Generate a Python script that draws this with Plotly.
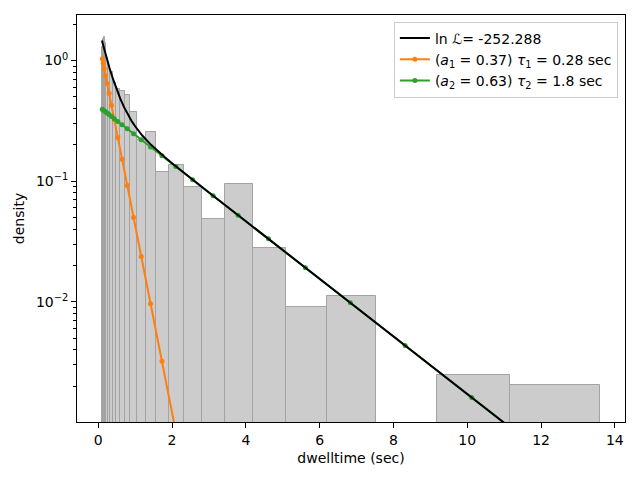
import plotly.graph_objects as go

# ---------------- data ----------------
bin_edges = [0.1, 0.1217, 0.1481, 0.1803, 0.2195, 0.2671, 0.3251, 0.3957, 0.4816,
             0.5861, 0.7134, 0.8683, 1.0568, 1.2862, 1.5654, 1.9053, 2.3190, 2.8225,
             3.4353, 4.1811, 5.0889, 6.1937, 7.5384, 9.1750, 11.167, 13.591]
bin_density = [1.30, 1.52, 1.58, 1.40, 1.05, 0.85, 0.81, 0.65, 0.58, 0.56, 0.52,
               0.372, 0.22, 0.254, 0.119, 0.135, 0.0897, 0.049, 0.0955, 0.0278,
               0.00912, 0.01125, None, 0.00248, 0.00205]

marker_t = [0.1103, 0.1343, 0.1634, 0.1989, 0.2422, 0.2947, 0.3587, 0.4365, 0.5313,
            0.6466, 0.7870, 0.9579, 1.1659, 1.4190, 1.7270, 2.1020, 2.5584, 3.1139,
            3.7899, 4.6127, 5.6141, 6.8330, 8.3165, 10.122, 12.320]
comp1_density = [1.032, 0.947, 0.854, 0.752, 0.644, 0.534, 0.425, 0.322, 0.2295,
                 0.152, 0.092, 0.050, 0.0238, 0.00963, 0.00321, 0.00084, 0.000165,
                 1.9e-5, 1.7e-6, 8.5e-8, 2.4e-9, 3.2e-11, 2.0e-13, 3.0e-16, 1.2e-19]
comp2_density = [0.3944, 0.3892, 0.3830, 0.3756, 0.3668, 0.3564, 0.3440, 0.3297,
                 0.3129, 0.2937, 0.2719, 0.2475, 0.2208, 0.1921, 0.1622, 0.1320,
                 0.1027, 0.0757, 0.05224, 0.03324, 0.01917, 0.00981, 0.004345,
                 0.00161, 0.000481]

total_t = [0.1, 0.15, 0.2, 0.25, 0.3, 0.4, 0.5, 0.6, 0.7, 0.8, 0.9, 1.0, 1.2, 1.4,
           1.6, 1.8, 2.0, 2.5, 3.0, 4.0, 5.0, 6.0, 7.0, 8.0, 9.0, 10.0, 11.0, 12.0, 13.6]
total_density = [1.4672, 1.2813, 1.1244, 0.9917, 0.8793, 0.703, 0.575, 0.4808, 0.4108,
                 0.3579, 0.317, 0.2849, 0.2378, 0.2045, 0.179, 0.1583, 0.1409, 0.1063,
                 0.0806, 0.04652, 0.02685, 0.0155, 0.008953, 0.00517, 0.002984,
                 0.001722, 0.000994, 0.000574, 0.000238]

legend_total = "ln \u2112= -252.288"
legend_c1 = "(<i>a</i><sub>1</sub> = 0.37) <i>\u03c4</i><sub>1</sub> = 0.28 sec"
legend_c2 = "(<i>a</i><sub>2</sub> = 0.63) <i>\u03c4</i><sub>2</sub> = 1.8 sec"

x_ticks = [0, 2, 4, 6, 8, 10, 12, 14]
y_ticks = [1, 0.1, 0.01]
y_ticktext = ["10<sup>0</sup>", "10<sup>\u22121</sup>", "10<sup>\u22122</sup>"]

# ---------------- figure ----------------
centers = [(a + b) / 2 for a, b in zip(bin_edges[:-1], bin_edges[1:])]
widths = [b - a for a, b in zip(bin_edges[:-1], bin_edges[1:])]

FONT = "DejaVu Sans"
FS = 14
fig = go.Figure()
fig.add_trace(go.Bar(x=centers, y=bin_density, width=widths,
                     marker=dict(color="#cccccc", line=dict(color="#a3a3a3", width=1)),
                     showlegend=False, hoverinfo="skip"))
fig.add_trace(go.Scatter(x=marker_t, y=comp1_density, mode="lines+markers",
                         line=dict(color="#ff7f0e", width=2),
                         marker=dict(size=5, color="#ff7f0e"), name=legend_c1,
                         legendrank=2))
fig.add_trace(go.Scatter(x=marker_t, y=comp2_density, mode="lines+markers",
                         line=dict(color="#2ca02c", width=2),
                         marker=dict(size=5, color="#2ca02c"), name=legend_c2,
                         legendrank=3))
fig.add_trace(go.Scatter(x=total_t, y=total_density, mode="lines",
                         line=dict(color="black", width=2), name=legend_total,
                         legendrank=1))

minor_vals = [m * 10 ** e for e in (-3, -2, -1) for m in range(2, 10)] + [2]

axis_common = dict(showline=True, linecolor="black", linewidth=1, mirror=True,
                   ticks="outside", ticklen=5, tickwidth=1, tickcolor="black",
                   showgrid=False, zeroline=False,
                   tickfont=dict(family=FONT, size=FS, color="black"))

fig.update_layout(
    width=640, height=480,
    margin=dict(l=77, r=15, t=15, b=58),
    plot_bgcolor="white", paper_bgcolor="white",
    bargap=0,
    font=dict(family=FONT, size=FS, color="black"),
    xaxis=dict(range=[-0.575, 14.275], tickvals=x_ticks,
               title=dict(text="dwelltime (sec)", standoff=6,
                          font=dict(family=FONT, size=FS)),
               **axis_common),
    yaxis=dict(type="log", range=[-2.996, 0.377], tickvals=y_ticks, ticktext=y_ticktext,
               minor=dict(tickvals=minor_vals, ticks="outside", ticklen=3,
                          tickwidth=1, tickcolor="black", showgrid=False),
               title=dict(text="density", standoff=8,
                          font=dict(family=FONT, size=FS)),
               **axis_common),
    legend=dict(x=0.987, y=0.984, xanchor="right", yanchor="top",
                bgcolor="rgba(255,255,255,0.8)", bordercolor="#cccccc", borderwidth=1,
                font=dict(family=FONT, size=FS), tracegroupgap=0),
)
fig.write_html("out.html")
